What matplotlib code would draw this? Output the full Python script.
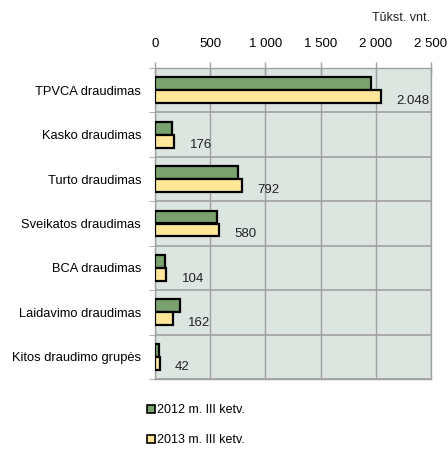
import matplotlib
matplotlib.use("Agg")
import matplotlib.pyplot as plt
from matplotlib.patches import Patch
import numpy as np

plt.rcParams['font.family'] = ['Liberation Sans', 'DejaVu Sans']

categories = ["TPVCA draudimas", "Kasko draudimas", "Turto draudimas",
              "Sveikatos draudimas", "BCA draudimas", "Laidavimo draudimas",
              "Kitos draudimo grupės"]
series_names = ["2012 m. III ketv.", "2013 m. III ketv."]
values_2012 = [1954, 157, 755, 564, 88, 224, 36]
values_2013 = [2048, 176, 792, 580, 104, 162, 42]
x_ticks = [0, 500, 1000, 1500, 2000, 2500]
x_tick_labels = ["0", "500", "1 000", "1 500", "2 000", "2 500"]
unit_label = "Tūkst. vnt."

green = "#79a26f"
yellow = "#ffe699"
bg = "#dde5e0"
gridc = "#a0a0a0"

fig = plt.figure(figsize=(4.48, 4.49), dpi=100)
ax = fig.add_axes([155/448, 1-379/449, 276/448, 311/449])
ax.set_facecolor(bg)

y = np.arange(len(categories))
h = 0.29
ax.barh(y - h/2, values_2012, height=h, color=green, edgecolor="black", linewidth=1.6, zorder=3)
ax.barh(y + h/2, values_2013, height=h, color=yellow, edgecolor="black", linewidth=1.6, zorder=3)

for yi, v in zip(y, values_2013):
    txt = f"{v:,}".replace(",", ".")
    ax.annotate(txt, (v, yi + h/2), xytext=(11, -3), textcoords="offset points",
                ha="left", va="center", fontsize=9.5, color="#222222", zorder=4)

ax.set_xlim(0, 2500)
ax.set_ylim(len(categories) - 0.5, -0.5)
ax.xaxis.tick_top()
ax.set_xticks(x_ticks)
ax.set_xticklabels(x_tick_labels, fontsize=9.5)
ax.tick_params(axis="x", direction="inout", length=8, color=gridc, pad=9, width=1)

ax.set_yticks(y)
ax.set_yticklabels(categories, fontsize=9.3)
ax.tick_params(axis="y", length=0, pad=10)
ax.set_yticks(np.arange(-0.5, len(categories), 1), minor=True)
ax.tick_params(axis="y", which="minor", direction="out", length=4, color=gridc)

for xv in x_ticks:
    ax.axvline(xv, color=gridc, linewidth=1, zorder=1)
for b in np.arange(-0.5, len(categories), 1):
    ax.axhline(b, color=gridc, linewidth=1.2, zorder=1)

for s in ax.spines.values():
    s.set_color(gridc)
    s.set_linewidth(1)

fig.text(430/448, 1-18/449, unit_label, ha="right", va="center", fontsize=9, color="#222222")

handles = [Patch(facecolor=green, edgecolor="black", linewidth=1.2),
           Patch(facecolor=yellow, edgecolor="black", linewidth=1.2)]
fig.legend(handles, series_names, loc="upper left", bbox_to_anchor=(136/448, 1-393/449),
           frameon=False, fontsize=9, handlelength=0.6, handleheight=0.6,
           handletextpad=0.15, labelspacing=1.45)

fig.savefig("out.png", dpi=100)
